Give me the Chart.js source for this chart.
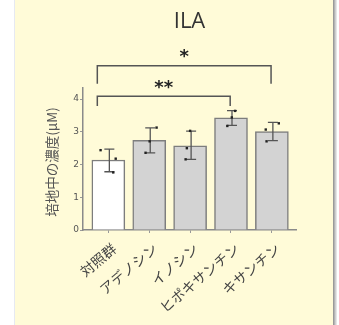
<!DOCTYPE html>
<html>
<head>
<meta charset="utf-8">
<script src="https://cdn.jsdelivr.net/npm/chart.js@4.4.1/dist/chart.umd.min.js"></script>
<style>
  body { margin: 0; background: #fff; }
  canvas { display: block; }
</style>
</head>
<body>
<canvas id="myChart" width="339" height="325"></canvas>
<script>
// data
var categories = ['対照群', 'アデノシン', 'イノシン', 'ヒポキサンチン', 'キサンチン'];
var means = [2.14, 2.74, 2.57, 3.43, 3.01];
var errLow = [1.78, 2.36, 2.16, 3.20, 2.73];
var errHigh = [2.47, 3.12, 3.02, 3.65, 3.29];
var pointValues = [[2.44, 2.18, 1.76], [3.13, 2.71, 2.36], [3.03, 2.50, 2.16], [3.64, 3.44, 3.18], [3.26, 3.07, 2.71]];
var pointJitter = [[-0.19, 0.18, 0.12], [0.18, 0.01, -0.09], [0.0, -0.08, -0.11], [0.10, 0.02, -0.09], [0.17, -0.15, -0.13]];
var yTicks = [0, 1, 2, 3, 4];
var sigFrom = [0, 0];
var sigTo = [3, 4];
var sigLabel = ['**', '*'];

var barFill = ['#ffffff', '#d3d3d3', '#d3d3d3', '#d3d3d3', '#d3d3d3'];

var barData = means.map(function (v, i) { return { x: i, y: v }; });
var dotData = [];
pointValues.forEach(function (vals, i) {
    vals.forEach(function (v, j) {
        dotData.push({ x: i + pointJitter[i][j], y: v });
    });
});

// panel background + shadow
var panelPlugin = {
    id: 'panel',
    beforeDraw: function (chart) {
        var c = chart.ctx;
        c.save();
        c.fillStyle = '#ffffff';
        c.fillRect(0, 0, chart.width, chart.height);
        c.fillStyle = '#fffbd8';
        c.fillRect(14, 0, 319, chart.height);
        c.fillStyle = '#e6e9f2';
        c.fillRect(14, 0, 1, chart.height);
        var shades = ['#9a9a9a', '#b4b4b4', '#cfcfcf', '#e6e6e6'];
        shades.forEach(function (s, k) {
            c.fillStyle = s;
            c.fillRect(333 + k, 0, 1, chart.height);
        });
        c.restore();
    }
};

// error bars, drawn right after the bars
var errorPlugin = {
    id: 'errbars',
    afterDatasetDraw: function (chart, args) {
        if (args.index !== 0) return;
        var c = chart.ctx;
        var xs = chart.scales.x, ys = chart.scales.y;
        c.save();
        c.strokeStyle = '#555';
        c.lineWidth = 1.3;
        for (var i = 0; i < means.length; i++) {
            var x = xs.getPixelForValue(i) + 1;
            var yl = ys.getPixelForValue(errLow[i]);
            var yh = ys.getPixelForValue(errHigh[i]);
            c.beginPath();
            c.moveTo(x, yl); c.lineTo(x, yh);
            c.moveTo(x - 5, yl); c.lineTo(x + 5, yl);
            c.moveTo(x - 5, yh); c.lineTo(x + 5, yh);
            c.stroke();
        }
        c.restore();
    }
};

// title, y title, significance brackets
var annotPlugin = {
    id: 'annot',
    afterDraw: function (chart) {
        var c = chart.ctx;
        var xs = chart.scales.x, ys = chart.scales.y;
        var area = chart.chartArea;
        c.save();
        c.fillStyle = '#333';
        c.font = '22px "Open Sans", "Noto Sans", sans-serif';
        c.textAlign = 'center';
        c.textBaseline = 'alphabetic';
        c.fillText('ILA', (area.left + area.right) / 2, 28);

        c.save();
        c.translate(52, 162);
        c.rotate(-Math.PI / 2);
        c.fillStyle = '#555';
        c.font = '13.5px "Noto Sans CJK JP", sans-serif';
        c.textBaseline = 'middle';
        c.fillText('培地中の濃度(μM)', 0, 0);
        c.restore();

        var levels = [4.09, 5.02];
        var drops = [3.79, 4.47];
        c.strokeStyle = '#555';
        c.lineWidth = 1.5;
        c.fillStyle = '#222';
        c.font = 'bold 18px "DejaVu Sans", sans-serif';
        c.textBaseline = 'middle';
        for (var k = 0; k < sigLabel.length; k++) {
            var x1 = xs.getPixelForValue(sigFrom[k] - 0.27);
            var x2 = xs.getPixelForValue(sigTo[k] - 0.02);
            var yTop = ys.getPixelForValue(levels[k]);
            var yBot = ys.getPixelForValue(drops[k]);
            c.beginPath();
            c.moveTo(x1, yBot); c.lineTo(x1, yTop); c.lineTo(x2, yTop); c.lineTo(x2, yBot);
            c.stroke();
            c.fillText(sigLabel[k], (x1 + x2) / 2, yTop - 8);
        }
        c.restore();
    }
};

var ctx = document.getElementById('myChart').getContext('2d');
var myChart = new Chart(ctx, {
    type: 'bar',
    data: {
        datasets: [{
            type: 'bar',
            data: barData,
            backgroundColor: barFill,
            borderColor: '#7d7d7d',
            borderWidth: 1.5,
            barThickness: 33,
            order: 2
        }, {
            type: 'scatter',
            data: dotData,
            pointStyle: 'rect',
            pointRadius: 1.7,
            backgroundColor: '#222',
            borderColor: '#222',
            borderWidth: 0,
            order: 1
        }]
    },
    options: {
        responsive: false,
        animation: false,
        layout: { padding: { left: 14, top: 88, right: 43, bottom: 0 } },
        plugins: {
            legend: { display: false },
            tooltip: { enabled: false }
        },
        scales: {
            x: {
                type: 'linear',
                offset: false,
                min: -0.62,
                max: 4.59,
                afterBuildTicks: function (scale) {
                    scale.ticks = categories.map(function (_, i) { return { value: i }; });
                },
                afterFit: function (scale) { scale.height = 95; },
                ticks: {
                    callback: function (v) { return categories[v]; },
                    minRotation: 40,
                    maxRotation: 40,
                    autoSkip: false,
                    color: '#444',
                    padding: 7,
                    labelOffset: 6,
                    font: { family: '"Noto Sans CJK JP", sans-serif', size: 14 }
                },
                grid: { drawOnChartArea: false, offset: false, tickLength: 3, color: '#999' },
                border: { color: '#8a8a8a', width: 1.5 }
            },
            y: {
                min: 0,
                max: 4.34,
                afterBuildTicks: function (scale) {
                    scale.ticks = yTicks.map(function (v) { return { value: v }; });
                },
                afterFit: function (scale) { scale.width = 69; },
                ticks: {
                    color: '#555',
                    padding: 1,
                    font: { family: '"DejaVu Sans", sans-serif', size: 9 }
                },
                grid: { drawOnChartArea: false, tickLength: 3, color: '#999' },
                border: { color: '#8a8a8a', width: 1.5 }
            }
        }
    },
    plugins: [panelPlugin, errorPlugin, annotPlugin]
});
</script>
</body>
</html>
